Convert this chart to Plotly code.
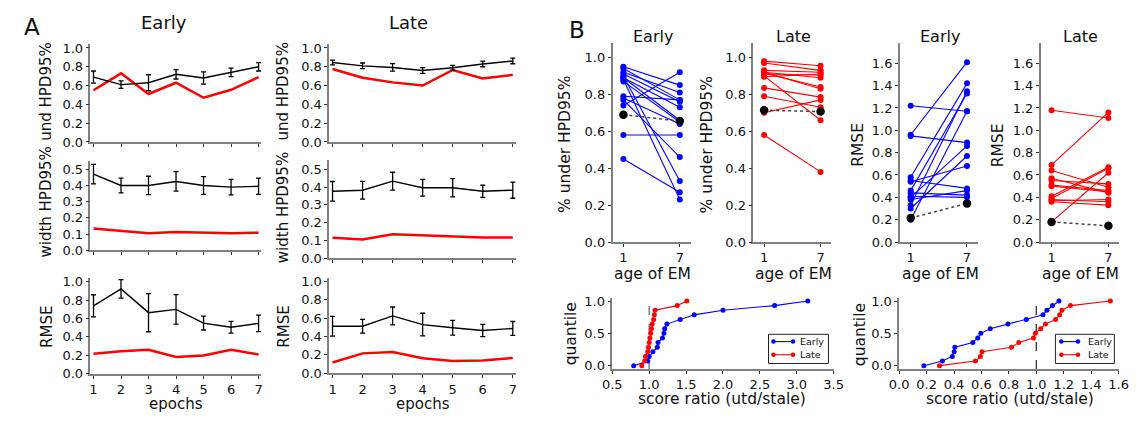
import plotly.graph_objects as go

W, H = 1145, 421
FONT = "DejaVu Sans"

# ---------------- Panel A: per-epoch summaries ----------------
epochs = [1, 2, 3, 4, 5, 6, 7]

und_early_mean = [0.69, 0.61, 0.63, 0.72, 0.68, 0.74, 0.80]
und_early_err = [0.065, 0.04, 0.085, 0.05, 0.065, 0.045, 0.045]
und_early_ref = [0.55, 0.73, 0.51, 0.63, 0.47, 0.555, 0.69]

width_early_mean = [0.47, 0.40, 0.40, 0.425, 0.40, 0.39, 0.395]
width_early_err = [0.06, 0.045, 0.057, 0.06, 0.055, 0.048, 0.05]
width_early_ref = [0.135, 0.12, 0.105, 0.113, 0.11, 0.105, 0.108]

rmse_early_mean = [0.737, 0.92, 0.663, 0.698, 0.55, 0.505, 0.547]
rmse_early_err = [0.12, 0.10, 0.207, 0.16, 0.075, 0.063, 0.09]
rmse_early_ref = [0.218, 0.246, 0.26, 0.182, 0.20, 0.26, 0.21]

und_late_mean = [0.845, 0.81, 0.793, 0.76, 0.79, 0.83, 0.862]
und_late_err = [0.025, 0.03, 0.04, 0.03, 0.025, 0.03, 0.03]
und_late_ref = [0.776, 0.683, 0.634, 0.60, 0.766, 0.676, 0.714]

width_late_mean = [0.376, 0.382, 0.433, 0.396, 0.396, 0.376, 0.382]
width_late_err = [0.055, 0.05, 0.05, 0.047, 0.051, 0.034, 0.045]
width_late_ref = [0.115, 0.105, 0.135, 0.129, 0.124, 0.116, 0.116]

rmse_late_mean = [0.512, 0.512, 0.625, 0.53, 0.495, 0.466, 0.488]
rmse_late_err = [0.108, 0.074, 0.097, 0.124, 0.08, 0.067, 0.076]
rmse_late_ref = [0.117, 0.216, 0.23, 0.163, 0.134, 0.138, 0.166]

# ---------------- Panel B: age of EM 1 vs 7 ----------------
age_ticks = [1, 7]

cov_early_age1 = [0.95, 0.94, 0.92, 0.91, 0.90, 0.89, 0.89, 0.88, 0.87, 0.79, 0.78, 0.77, 0.74, 0.58, 0.45]
cov_early_age7 = [0.85, 0.77, 0.81, 0.76, 0.33, 0.73, 0.66, 0.23, 0.65, 0.77, 0.64, 0.46, 0.92, 0.58, 0.27]
cov_early_summary = [0.69, 0.655]

cov_late_age1 = [0.98, 0.97, 0.93, 0.92, 0.92, 0.915, 0.91, 0.90, 0.895, 0.835, 0.79, 0.70, 0.58]
cov_late_age7 = [0.955, 0.93, 0.92, 0.89, 0.83, 0.84, 0.905, 0.66, 0.91, 0.785, 0.73, 0.77, 0.38]
cov_late_summary = [0.714, 0.707]

rmse_b_early_age1 = [1.22, 0.96, 0.95, 0.58, 0.55, 0.54, 0.46, 0.44, 0.41, 0.40, 0.38, 0.33, 0.30, 0.20]
rmse_b_early_age7 = [1.17, 1.61, 0.89, 1.42, 0.48, 0.68, 1.33, 0.42, 0.40, 0.86, 0.46, 1.35, 0.77, 1.17]
rmse_b_early_summary = [0.215, 0.345]

rmse_b_late_age1 = [1.18, 0.69, 0.64, 0.57, 0.55, 0.51, 0.50, 0.41, 0.39, 0.38, 0.37, 0.36, 0.18]
rmse_b_late_age7 = [1.11, 1.16, 0.49, 0.44, 0.52, 0.46, 0.45, 0.67, 0.66, 0.36, 0.38, 0.33, 0.62]
rmse_b_late_summary = [0.18, 0.145]

# ---------------- Panel B: score ratio quantiles ----------------
quantile_levels = [0.0, 0.071, 0.143, 0.214, 0.286, 0.357, 0.429, 0.5,
                   0.571, 0.643, 0.714, 0.786, 0.857, 0.929, 1.0]
ratio_cov_early = [0.79, 0.98, 1.0, 1.05, 1.11, 1.12, 1.18, 1.20, 1.21, 1.24, 1.42, 1.61, 2.0, 2.70, 3.15]
ratio_cov_late = [0.90, 0.94, 0.95, 0.98, 0.99, 1.0, 1.01, 1.02, 1.03, 1.04, 1.06, 1.07, 1.08, 1.38, 1.51]
ratio_rmse_early = [0.18, 0.315, 0.387, 0.401, 0.406, 0.537, 0.573, 0.595, 0.664, 0.793, 0.927, 1.049, 1.077, 1.118, 1.165]
ratio_rmse_late = [0.294, 0.556, 0.592, 0.604, 0.819, 0.872, 0.979, 0.993, 1.032, 1.067, 1.141, 1.17, 1.187, 1.249, 1.54]
legend_labels = ["Early", "Late"]

RED = "#ff0000"
BLUE = "#0000ff"
SPINE = "#808080"


def xdom(left, right):
    return [left / W, right / W]


def ydom(top, bottom):
    return [1 - bottom / H, 1 - top / H]


fig = go.Figure()
layout_axes = {}


def add_axes(i, xd, yd, xr, yr, xticks, yticks, xlabels=True, xfmt=None, yfmt=".1f"):
    xa = "xaxis" if i == 1 else f"xaxis{i}"
    ya = "yaxis" if i == 1 else f"yaxis{i}"
    common = dict(showgrid=False, zeroline=False, showline=True, linecolor=SPINE,
                  linewidth=1.5, ticks="outside", ticklen=3, tickwidth=1,
                  tickcolor="#333", tickfont=dict(size=13, color="#111", family=FONT))
    layout_axes[xa] = dict(common, domain=xd, range=xr, anchor=f"y{'' if i == 1 else i}",
                           tickmode="array", tickvals=xticks, showticklabels=xlabels,
                           **({"tickformat": xfmt} if xfmt else {}))
    layout_axes[ya] = dict(common, domain=yd, range=yr, anchor=f"x{'' if i == 1 else i}",
                           tickmode="array", tickvals=yticks, tickformat=yfmt)


def ax_ref(i):
    return ("x", "y") if i == 1 else (f"x{i}", f"y{i}")


ticks_10 = [0.0, 0.2, 0.4, 0.6, 0.8, 1.0]
ticks_05 = [0.0, 0.1, 0.2, 0.3, 0.4, 0.5]
ticks_16 = [0.0, 0.2, 0.4, 0.6, 0.8, 1.0, 1.2, 1.4, 1.6]

# Panel A axes (Early column, Late column)
add_axes(1, xdom(81.9, 255.8), ydom(41.4, 142.0), [0.89, 7.1], [0, 1.04], epochs, ticks_10, False)
add_axes(2, xdom(81.9, 255.8), ydom(161.8, 253.5), [0.89, 7.1], [0, 0.55], epochs, ticks_05, False)
add_axes(3, xdom(81.9, 255.8), ydom(281.9, 380.7), [0.89, 7.1], [0, 1.04], epochs, ticks_10, True)
add_axes(4, xdom(324.9, 514.8), ydom(41.4, 142.0), [0.89, 7.1], [0, 1.04], epochs, ticks_10, False)
add_axes(5, xdom(324.9, 514.8), ydom(160.9, 261.7), [0.89, 7.1], [0, 0.55], epochs, ticks_05, False)
add_axes(6, xdom(324.9, 514.8), ydom(281.9, 380.0), [0.89, 7.1], [0, 1.04], epochs, ticks_10, True)

# Panel B paired axes
add_axes(7, xdom(613.3, 692.7), ydom(39.8, 245.0), [-0.15, 8.15], [0, 1.08], age_ticks, ticks_10)
add_axes(8, xdom(756.5, 836.0), ydom(39.8, 245.0), [-0.15, 8.15], [0, 1.08], age_ticks, ticks_10)
add_axes(9, xdom(905.7, 985.0), ydom(40.3, 245.0), [-0.15, 8.15], [0, 1.78], age_ticks, ticks_16)
add_axes(10, xdom(1049.0, 1129.0), ydom(40.3, 245.0), [-0.15, 8.15], [0, 1.78], age_ticks, ticks_16)

# Panel B quantile axes
add_axes(11, xdom(613.0, 838.3), ydom(302.4, 375.6), [0.5, 3.5], [-0.05, 1.05],
         [0.5, 1.0, 1.5, 2.0, 2.5, 3.0, 3.5], [0.0, 0.5, 1.0], True, ".1f")
add_axes(12, xdom(905.0, 1128.3), ydom(302.4, 375.6), [0.0, 1.6], [-0.05, 1.05],
         [0.0, 0.2, 0.4, 0.6, 0.8, 1.0, 1.2, 1.4, 1.6], [0.0, 0.5, 1.0], True, ".1f")


def epoch_panel(i, mean, err, ref):
    xr, yr = ax_ref(i)
    fig.add_trace(go.Scatter(x=epochs, y=ref, mode="lines", xaxis=xr, yaxis=yr,
                             line=dict(color=RED, width=2.5), showlegend=False))
    fig.add_trace(go.Scatter(x=epochs, y=mean, mode="lines", xaxis=xr, yaxis=yr,
                             line=dict(color="black", width=1.4), showlegend=False,
                             error_y=dict(type="data", array=err, color="black",
                                          thickness=1.3, width=2.5)))


epoch_panel(1, und_early_mean, und_early_err, und_early_ref)
epoch_panel(2, width_early_mean, width_early_err, width_early_ref)
epoch_panel(3, rmse_early_mean, rmse_early_err, rmse_early_ref)
epoch_panel(4, und_late_mean, und_late_err, und_late_ref)
epoch_panel(5, width_late_mean, width_late_err, width_late_ref)
epoch_panel(6, rmse_late_mean, rmse_late_err, rmse_late_ref)


def paired_panel(i, first, last, summary, color):
    xr, yr = ax_ref(i)
    xs, ys = [], []
    for a, b in zip(first, last):
        xs += [age_ticks[0], age_ticks[1], None]
        ys += [a, b, None]
    fig.add_trace(go.Scatter(x=xs, y=ys, mode="lines+markers", xaxis=xr, yaxis=yr,
                             line=dict(color=color, width=1.1),
                             marker=dict(color=color, size=6), showlegend=False))
    fig.add_trace(go.Scatter(x=age_ticks, y=summary, mode="lines+markers", xaxis=xr, yaxis=yr,
                             line=dict(color="#444", width=1.5, dash="dot"),
                             marker=dict(color="black", size=8.5), showlegend=False))


paired_panel(7, cov_early_age1, cov_early_age7, cov_early_summary, BLUE)
paired_panel(8, cov_late_age1, cov_late_age7, cov_late_summary, RED)
paired_panel(9, rmse_b_early_age1, rmse_b_early_age7, rmse_b_early_summary, BLUE)
paired_panel(10, rmse_b_late_age1, rmse_b_late_age7, rmse_b_late_summary, RED)


def quantile_panel(i, early, late, dash_color):
    xr, yr = ax_ref(i)
    fig.add_trace(go.Scatter(x=[1.0, 1.0], y=[-0.05, 1.0], mode="lines", xaxis=xr, yaxis=yr,
                             line=dict(color=dash_color, width=1.3, dash="dash"), showlegend=False))
    for vals, color in ((early, BLUE), (late, RED)):
        fig.add_trace(go.Scatter(x=vals, y=quantile_levels, mode="lines+markers",
                                 xaxis=xr, yaxis=yr, line=dict(color=color, width=1.1),
                                 marker=dict(color=color, size=5), showlegend=False))


quantile_panel(11, ratio_cov_early, ratio_cov_late, "#666")
quantile_panel(12, ratio_rmse_early, ratio_rmse_late, "#333")


def ann(text, x, y, size, angle=0, xanchor="center"):
    return dict(text=text, x=x / W, y=1 - y / H, xref="paper", yref="paper",
                showarrow=False, textangle=angle, xanchor=xanchor, yanchor="middle",
                font=dict(size=size, family=FONT, color="#111"))


annotations = [
    ann("A", 22, 24, 23), ann("B", 577, 27, 23),
    ann("Early", 157, 19, 18), ann("Late", 406, 19, 18),
    ann("und HPD95%", 37, 90, 15, -90), ann("width HPD95%", 37, 204, 15, -90),
    ann("RMSE", 37, 332, 15, -90),
    ann("und HPD95%", 278, 90, 15, -90), ann("width HPD95%", 278, 210, 15, -90),
    ann("RMSE", 278, 332, 15, -90),
    ann("epochs", 169, 412, 15), ann("epochs", 420, 412, 15),
    ann("Early", 654, 33, 16), ann("Late", 797, 33, 16),
    ann("Early", 947, 33, 16), ann("Late", 1090, 33, 16),
    ann("% under HPD95%", 565, 145, 15.5, -90), ann("% under HPD95%", 709, 145, 15.5, -90),
    ann("RMSE", 863, 145, 15.5, -90), ann("RMSE", 1005, 145, 15.5, -90),
    ann("age of EM", 654, 278, 15.5), ann("age of EM", 797, 278, 15.5),
    ann("age of EM", 947, 278, 15.5), ann("age of EM", 1090, 278, 15.5),
    ann("quantile", 571, 340, 15.5, -90), ann("quantile", 865, 340, 15.5, -90),
    ann("score ratio (utd/stale)", 725, 407, 15.5), ann("score ratio (utd/stale)", 1018, 407, 15.5),
]

# Legend boxes for the quantile panels: frame, sample line with end markers, label
shapes = []


def legend_box(left, top, right, bottom, line_l, line_r, text_x):
    shapes.append(dict(type="rect", xref="paper", yref="paper", x0=left / W, x1=right / W,
                       y0=1 - bottom / H, y1=1 - top / H,
                       line=dict(color="#222", width=1), fillcolor="white", layer="above"))
    rows = [top + 7.5, top + 21]
    for label, color, yy in zip(legend_labels, (BLUE, RED), rows):
        shapes.append(dict(type="line", xref="paper", yref="paper", x0=line_l / W, x1=line_r / W,
                           y0=1 - yy / H, y1=1 - yy / H, line=dict(color=color, width=1.1),
                           layer="above"))
        for cx in (line_l, line_r):
            shapes.append(dict(type="circle", xref="paper", yref="paper",
                               x0=(cx - 2.3) / W, x1=(cx + 2.3) / W,
                               y0=1 - (yy + 2.3) / H, y1=1 - (yy - 2.3) / H,
                               line=dict(color=color, width=0), fillcolor=color, layer="above"))
        annotations.append(ann(label, text_x, yy, 9.5, xanchor="left"))


legend_box(772, 340, 833, 370, 777, 797, 802)
legend_box(1064, 340, 1124, 370, 1070, 1087, 1095)

fig.update_layout(
    width=W, height=H, margin=dict(l=0, r=0, t=0, b=0),
    paper_bgcolor="white", plot_bgcolor="white",
    font=dict(family=FONT, color="#111"),
    annotations=annotations, shapes=shapes, showlegend=False,
    **layout_axes,
)

fig.write_html("out.html")
